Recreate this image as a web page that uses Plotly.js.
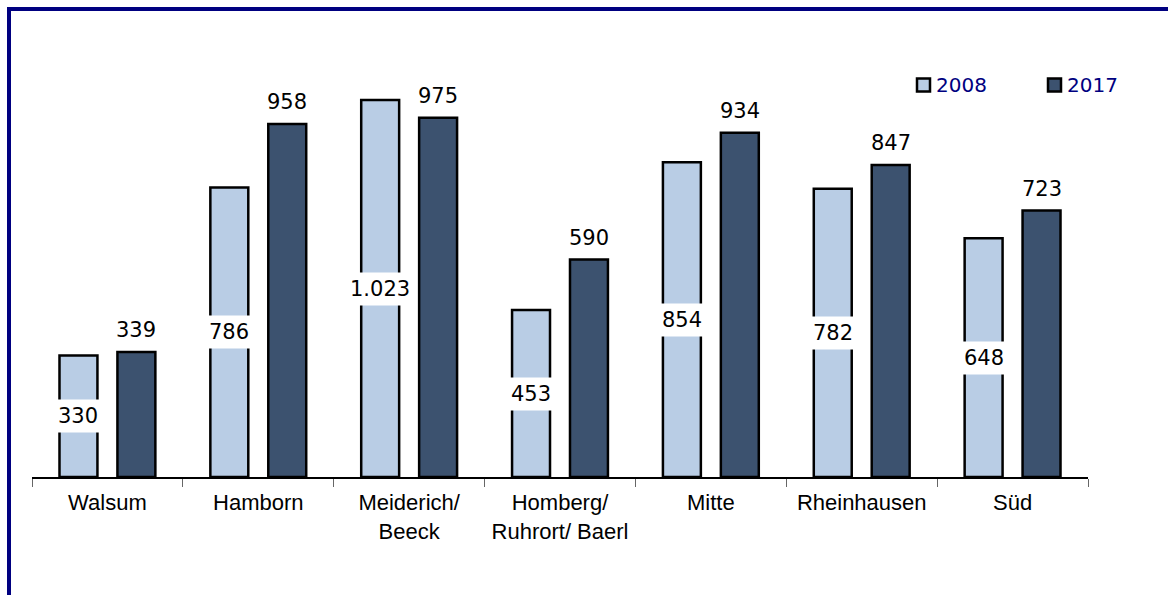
<!DOCTYPE html>
<html>
<head>
<meta charset="utf-8">
<script src="https://cdn.plot.ly/plotly-3.0.1.min.js"></script>
<style>html,body{margin:0;padding:0;background:#fff;}#chart{width:1168px;height:595px;}</style>
</head>
<body>
<div id="chart"></div>
<script>
const categories = ["Walsum", "Hamborn", "Meiderich/<br>Beeck", "Homberg/<br>Ruhrort/ Baerl", "Mitte", "Rheinhausen", "Süd"];
const values2008 = [330, 786, 1023, 453, 854, 782, 648];
const values2017 = [339, 958, 975, 590, 934, 847, 723];
const seriesNames = ["2008", "2017"];

function fmt(v) {
  return v >= 1000 ? Math.floor(v / 1000) + "." + String(v % 1000).padStart(3, "0") : String(v);
}

const light = "#b9cde5";
const dark = "#3c526f";
const colors = [light, dark];
const valueFont = {family: "DejaVu Sans, Verdana, sans-serif", size: 21, color: "#000"};

const traces = [
  {type: "bar", name: seriesNames[0], x: categories, y: values2008,
   marker: {color: light, line: {color: "#000", width: 2.5}}, hoverinfo: "skip"},
  {type: "bar", name: seriesNames[1], x: categories, y: values2017,
   marker: {color: dark, line: {color: "#000", width: 2.5}}, hoverinfo: "skip"}
];

// pixel -> paper helpers (plot area: x 32..1088, y 40..477)
const L = 32, W = 1056, T = 40, H = 437;
const px = x => (x - L) / W;
const py = y => 1 - (y - T) / H;

const annotations = [];
categories.forEach((c, i) => {
  annotations.push({x: c, y: values2008[i] / 2, xref: "x", yref: "y", text: fmt(values2008[i]),
    showarrow: false, xshift: -29, bgcolor: "#fff", borderpad: 4, font: valueFont});
  annotations.push({x: c, y: values2017[i], xref: "x", yref: "y", text: fmt(values2017[i]),
    showarrow: false, xshift: 29, yanchor: "bottom", yshift: 8, font: valueFont});
});

// custom legend
const legendX = [917, 1048];
const legendY = 85;
const shapes = [];
seriesNames.forEach((n, i) => {
  shapes.push({type: "rect", xref: "paper", yref: "paper",
    x0: px(legendX[i]), x1: px(legendX[i] + 13), y0: py(legendY + 6.5), y1: py(legendY - 6.5),
    fillcolor: colors[i], line: {color: "#000", width: 2.5}, layer: "above"});
  annotations.push({xref: "paper", yref: "paper", x: px(legendX[i] + 17), y: py(legendY),
    xanchor: "left", yanchor: "middle", showarrow: false, text: n,
    font: {family: "DejaVu Sans, Verdana, sans-serif", size: 20, color: "#000080"}});
});
shapes.push({type: "rect", xref: "paper", yref: "paper",
  x0: px(9), x1: 2, y0: -2, y1: py(9),
  line: {color: "#000080", width: 4}, fillcolor: "rgba(0,0,0,0)", layer: "above"});

const layout = {
  width: 1168, height: 595,
  margin: {l: 32, r: 80, t: 40, b: 118, autoexpand: false},
  paper_bgcolor: "#fff", plot_bgcolor: "#fff",
  barmode: "group", bargap: 0.232, bargroupgap: 0.345,
  xaxis: {type: "category", showline: true, linecolor: "#000", linewidth: 1.5,
    ticks: "outside", tickson: "boundaries", ticklen: 8, tickcolor: "#666", tickwidth: 1,
    showgrid: false, zeroline: false, ticklabelstandoff: 5, automargin: false,
    tickfont: {family: "Liberation Sans, Arial, sans-serif", size: 22, color: "#000"}},
  yaxis: {range: [0, 1186], visible: false, showgrid: false, zeroline: false, fixedrange: true},
  showlegend: false,
  annotations: annotations,
  shapes: shapes
};

Plotly.newPlot("chart", traces, layout, {displayModeBar: false, staticPlot: true});
</script>
</body>
</html>
